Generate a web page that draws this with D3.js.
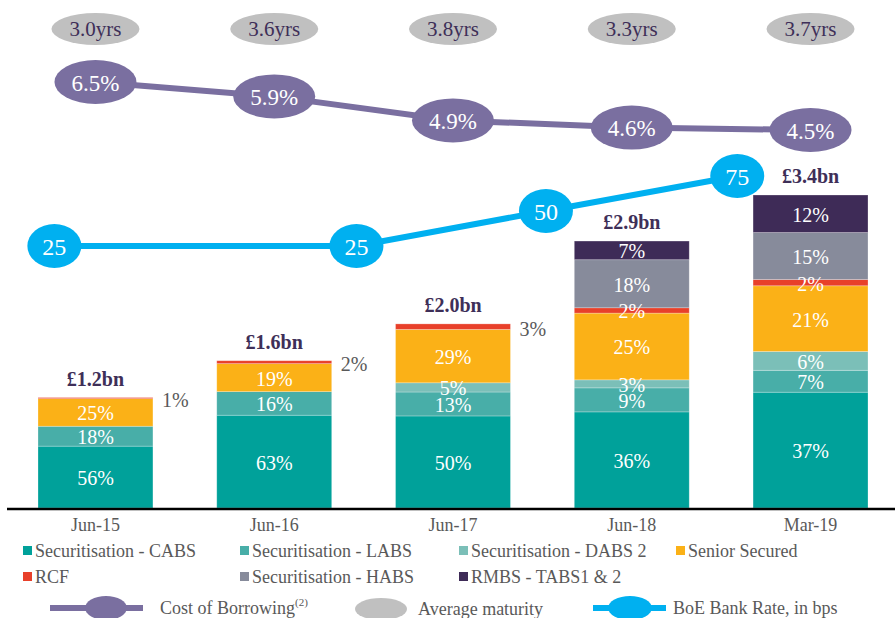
<!DOCTYPE html>
<html><head><meta charset="utf-8">
<script src="https://cdn.jsdelivr.net/npm/d3@7"></script>
<style>body{margin:0;background:#fff}svg{display:block;font-family:"Liberation Serif","Times New Roman",serif}</style>
</head><body><svg id="c" width="895" height="618"></svg>
<script>
// ---- data ----
const periods = ["Jun-15", "Jun-16", "Jun-17", "Jun-18", "Mar-19"];
const totals = [1.2, 1.6, 2.0, 2.9, 3.4];               // £bn
const totalLabels = ["£1.2bn", "£1.6bn", "£2.0bn", "£2.9bn", "£3.4bn"];
const seriesNames = ["Securitisation - CABS", "Securitisation - LABS", "Securitisation - DABS 2",
  "Senior Secured", "RCF", "Securitisation - HABS", "RMBS - TABS1 & 2"];
const cabs   = [56, 63, 50, 36, 37];
const labs   = [18, 16, 13, 9, 7];
const dabs   = [0, 0, 5, 3, 6];
const senior = [25, 19, 29, 25, 21];
const rcf    = [1, 2, 3, 2, 2];
const habs   = [0, 0, 0, 18, 15];
const tabs   = [0, 0, 0, 7, 12];
const costOfBorrowing = [6.5, 5.9, 4.9, 4.6, 4.5];      // %
const avgMaturity = [3.0, 3.6, 3.8, 3.3, 3.7];          // years
const boeRate = [25, 25, 50, 75];                        // bps
const boePeriodPos = [-0.23, 1.46, 2.52, 3.59];          // position along the period axis (period index)

// ---- styles ----
const colors = ["#00a19a", "#48aea8", "#7bbfb8", "#fbb117", "#e8402a", "#878b9b", "#3e2b57"];
const seriesVals = [cabs, labs, dabs, senior, rcf, habs, tabs];
const purple = "#7a6fa0", cyan = "#00b0f0", grey = "#c0c0c0", textGrey = "#595959", dark = "#3e2f58";

const svg = d3.select("#c");
const baseY = 508;

const x = d3.scaleBand().domain(periods).range([38, 868]).paddingInner(0.357).paddingOuter(0);
const bw = x.bandwidth(), step = x.step();
const cx = p => x(p) + bw / 2;
const y = d3.scaleLinear().domain([0, 3.4]).range([baseY, 195]);
const yCost = d3.scaleLinear().domain([4.5, 6.5]).range([130, 82]);
const yBoe = d3.scaleLinear().domain([25, 75]).range([246, 176]);
const xIdx = d3.scaleLinear().domain([0, 1]).range([cx(periods[0]), cx(periods[0]) + step]);

// ---- stacked bars ----
const rows = periods.map((p, i) => {
  const r = { period: p, total: totals[i] };
  seriesNames.forEach((s, k) => r[s] = seriesVals[k][i]);
  return r;
});
const stack = d3.stack().keys(seriesNames)(rows);

const gBars = svg.append("g");
stack.forEach((layer, k) => {
  gBars.selectAll(null).data(layer.filter(d => d[1] > d[0])).join("rect")
    .attr("x", d => x(d.data.period))
    .attr("width", bw)
    .attr("y", d => y(d.data.total * d[1] / 100))
    .attr("height", d => y(d.data.total * d[0] / 100) - y(d.data.total * d[1] / 100))
    .attr("fill", colors[k])
    .attr("stroke", "#ffffff").attr("stroke-opacity", 0.35).attr("stroke-width", 0.75);
});

// segment labels
stack.forEach((layer, k) => {
  layer.forEach(d => {
    const v = d[1] - d[0];
    if (v <= 0) return;
    const isTop = d[1] >= 100;
    const mid = y(d.data.total * (d[0] + d[1]) / 200);
    if (isTop && v <= 3) {
      svg.append("text").attr("x", x(d.data.period) + bw + 9).attr("y", mid + 2)
        .attr("dominant-baseline", "central").attr("font-size", 20).attr("fill", textGrey)
        .text(v + "%");
    } else {
      svg.append("text").attr("x", cx(d.data.period)).attr("y", mid + 1)
        .attr("text-anchor", "middle").attr("dominant-baseline", "central")
        .attr("font-size", 20).attr("fill", "#ffffff").text(v + "%");
    }
  });
});

// totals
svg.selectAll(".tot").data(periods).join("text")
  .attr("x", p => cx(p)).attr("y", (p, i) => y(totals[i]) - 12)
  .attr("text-anchor", "middle").attr("font-size", 20).attr("font-weight", "bold")
  .attr("fill", dark).text((p, i) => totalLabels[i]);

// axis
svg.append("line").attr("x1", 7).attr("x2", 895).attr("y1", baseY + 1).attr("y2", baseY + 1)
  .attr("stroke", "#000").attr("stroke-width", 2.5);
const ax = svg.append("g").attr("transform", `translate(0,${baseY})`)
  .call(d3.axisBottom(x).tickSize(0).tickPadding(10));
ax.select(".domain").remove();
ax.selectAll("text").attr("font-size", 18).attr("fill", textGrey)
  .attr("font-family", '"Liberation Serif","Times New Roman",serif');

// ---- BoE bank rate line ----
svg.append("path")
  .datum(boeRate.map((v, i) => [xIdx(boePeriodPos[i]), yBoe(v)]))
  .attr("d", d3.line()).attr("fill", "none").attr("stroke", cyan).attr("stroke-width", 6);
boeRate.forEach((v, i) => {
  svg.append("ellipse").attr("cx", xIdx(boePeriodPos[i])).attr("cy", yBoe(v))
    .attr("rx", 27).attr("ry", 22).attr("fill", cyan);
  svg.append("text").attr("x", xIdx(boePeriodPos[i])).attr("y", yBoe(v) + 1)
    .attr("text-anchor", "middle").attr("dominant-baseline", "central")
    .attr("font-size", 24).attr("fill", "#fff").text(v);
});

// ---- cost of borrowing line ----
svg.append("path")
  .datum(costOfBorrowing.map((v, i) => [cx(periods[i]), yCost(v)]))
  .attr("d", d3.line()).attr("fill", "none").attr("stroke", purple).attr("stroke-width", 6);
costOfBorrowing.forEach((v, i) => {
  svg.append("ellipse").attr("cx", cx(periods[i])).attr("cy", yCost(v))
    .attr("rx", 41).attr("ry", 22).attr("fill", purple);
  svg.append("text").attr("x", cx(periods[i])).attr("y", yCost(v) + 1)
    .attr("text-anchor", "middle").attr("dominant-baseline", "central")
    .attr("font-size", 23).attr("fill", "#fff").text(v.toFixed(1) + "%");
});

// ---- average maturity ----
avgMaturity.forEach((v, i) => {
  svg.append("ellipse").attr("cx", cx(periods[i])).attr("cy", 29)
    .attr("rx", 44).attr("ry", 16).attr("fill", grey);
  svg.append("text").attr("x", cx(periods[i])).attr("y", 29)
    .attr("text-anchor", "middle").attr("dominant-baseline", "central")
    .attr("font-size", 21).attr("fill", dark).text(v.toFixed(1) + "yrs");
});

// ---- legend ----
const legPos = [[23, 551], [240, 551], [459, 551], [676, 551], [23, 577], [240, 577], [459, 577]];
seriesNames.forEach((s, k) => {
  const [lx, ly] = legPos[k];
  svg.append("rect").attr("x", lx).attr("y", ly - 5).attr("width", 9).attr("height", 9).attr("fill", colors[k]);
  svg.append("text").attr("x", lx + 12).attr("y", ly).attr("dominant-baseline", "central")
    .attr("font-size", 18).attr("fill", textGrey).text(s);
});
const ly3 = 608;
svg.append("line").attr("x1", 50).attr("x2", 143).attr("y1", ly3).attr("y2", ly3).attr("stroke", purple).attr("stroke-width", 6);
svg.append("ellipse").attr("cx", 106).attr("cy", ly3).attr("rx", 21).attr("ry", 12).attr("fill", purple);
const t1 = svg.append("text").attr("x", 160).attr("y", ly3).attr("dominant-baseline", "central")
  .attr("font-size", 18).attr("fill", textGrey);
t1.append("tspan").text("Cost of Borrowing");
t1.append("tspan").attr("font-size", 11).attr("dy", -6).text("(2)");
svg.append("ellipse").attr("cx", 381).attr("cy", ly3 + 1).attr("rx", 26).attr("ry", 11).attr("fill", grey);
svg.append("text").attr("x", 418).attr("y", ly3 + 1).attr("dominant-baseline", "central")
  .attr("font-size", 18).attr("fill", textGrey).text("Average maturity");
svg.append("line").attr("x1", 593).attr("x2", 666).attr("y1", ly3).attr("y2", ly3).attr("stroke", cyan).attr("stroke-width", 6);
svg.append("ellipse").attr("cx", 630).attr("cy", ly3).attr("rx", 22).attr("ry", 12).attr("fill", cyan);
svg.append("text").attr("x", 673).attr("y", ly3).attr("dominant-baseline", "central")
  .attr("font-size", 18).attr("fill", textGrey).text("BoE Bank Rate, in bps");
</script></body></html>
